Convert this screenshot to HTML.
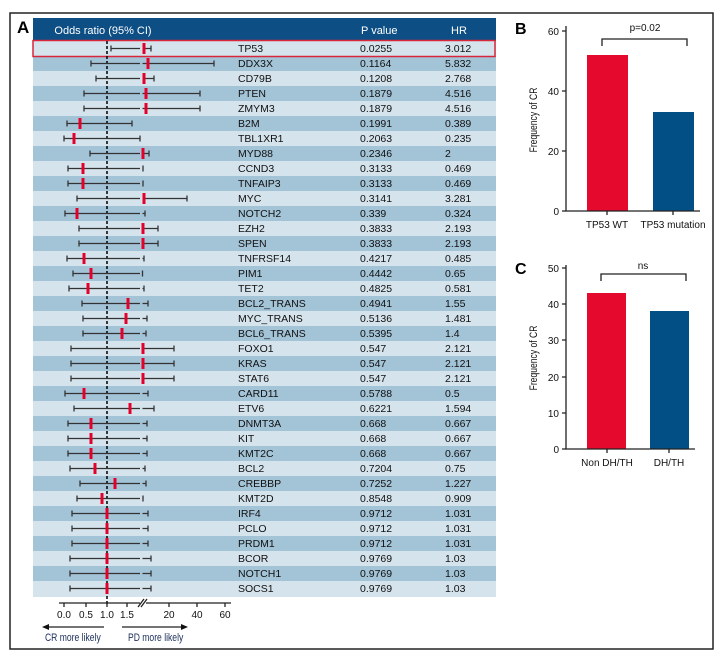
<!DOCTYPE html>
<html><head><meta charset="utf-8"><style>
body{margin:0;background:#fff}
svg{display:block}
text{font-family:"Liberation Sans",sans-serif}
</style></head><body>
<svg width="726" height="659" viewBox="0 0 726 659" xmlns="http://www.w3.org/2000/svg">
<rect x="10" y="13" width="703" height="636" fill="#fff" stroke="#222" stroke-width="1.5"/>
<text x="17" y="33" font-size="17" font-weight="bold">A</text>
<rect x="33" y="18" width="463" height="23" fill="#0d4f85"/>
<text x="103" y="34" font-size="11" fill="#fff" text-anchor="middle">Odds ratio (95% CI)</text>
<text x="361" y="34" font-size="11" fill="#fff">P value</text>
<text x="451" y="34" font-size="11" fill="#fff">HR</text>
<g id="bg">
<rect x="33" y="41" width="463" height="15" fill="#d5e3ec"/><rect x="33" y="56" width="463" height="15" fill="#a3c3d7"/>
<rect x="33" y="71" width="463" height="15" fill="#d5e3ec"/><rect x="33" y="86" width="463" height="15" fill="#a3c3d7"/>
<rect x="33" y="101" width="463" height="15" fill="#d5e3ec"/><rect x="33" y="116" width="463" height="15" fill="#a3c3d7"/>
<rect x="33" y="131" width="463" height="15" fill="#d5e3ec"/><rect x="33" y="146" width="463" height="15" fill="#a3c3d7"/>
<rect x="33" y="161" width="463" height="15" fill="#d5e3ec"/><rect x="33" y="176" width="463" height="15" fill="#a3c3d7"/>
<rect x="33" y="191" width="463" height="15" fill="#d5e3ec"/><rect x="33" y="206" width="463" height="15" fill="#a3c3d7"/>
<rect x="33" y="221" width="463" height="15" fill="#d5e3ec"/><rect x="33" y="236" width="463" height="15" fill="#a3c3d7"/>
<rect x="33" y="251" width="463" height="15" fill="#d5e3ec"/><rect x="33" y="266" width="463" height="15" fill="#a3c3d7"/>
<rect x="33" y="281" width="463" height="15" fill="#d5e3ec"/><rect x="33" y="296" width="463" height="15" fill="#a3c3d7"/>
<rect x="33" y="311" width="463" height="15" fill="#d5e3ec"/><rect x="33" y="326" width="463" height="15" fill="#a3c3d7"/>
<rect x="33" y="341" width="463" height="15" fill="#d5e3ec"/><rect x="33" y="356" width="463" height="15" fill="#a3c3d7"/>
<rect x="33" y="371" width="463" height="15" fill="#d5e3ec"/><rect x="33" y="386" width="463" height="15" fill="#a3c3d7"/>
<rect x="33" y="401" width="463" height="15" fill="#d5e3ec"/><rect x="33" y="416" width="463" height="15" fill="#a3c3d7"/>
<rect x="33" y="431" width="463" height="15" fill="#d5e3ec"/><rect x="33" y="446" width="463" height="15" fill="#a3c3d7"/>
<rect x="33" y="461" width="463" height="15" fill="#d5e3ec"/><rect x="33" y="476" width="463" height="15" fill="#a3c3d7"/>
<rect x="33" y="491" width="463" height="15" fill="#d5e3ec"/><rect x="33" y="506" width="463" height="15" fill="#a3c3d7"/>
<rect x="33" y="521" width="463" height="15" fill="#d5e3ec"/><rect x="33" y="536" width="463" height="15" fill="#a3c3d7"/>
<rect x="33" y="551" width="463" height="15" fill="#d5e3ec"/><rect x="33" y="566" width="463" height="15" fill="#a3c3d7"/>
<rect x="33" y="581" width="463" height="16" fill="#d5e3ec"/>
</g>
<rect x="33" y="40.5" width="462" height="16" fill="none" stroke="#d8263a" stroke-width="1.5"/>
<line x1="107" y1="41" x2="107" y2="605" stroke="#000" stroke-width="1.5" stroke-dasharray="3,2"/>
<g stroke="#333" stroke-width="1.3" fill="none">
<path d="M111 48.5H140M142.5 48.5H151M111 45.5v6M151 45.5v6"/>
<path d="M91 63.5H140M142.5 63.5H214M91 60.5v6M214 60.5v6"/>
<path d="M96 78.5H140M142.5 78.5H154M96 75.5v6M154 75.5v6"/>
<path d="M84 93.5H140M142.5 93.5H200M84 90.5v6M200 90.5v6"/>
<path d="M84 108.5H140M142.5 108.5H200M84 105.5v6M200 105.5v6"/>
<path d="M67 123.5H132M67 120.5v6M132 120.5v6"/>
<path d="M64 138.5H140M64 135.5v6M140 135.5v6"/>
<path d="M90 153.5H140M142.5 153.5H149M90 150.5v6M149 150.5v6"/>
<path d="M68 168.5H140M68 165.5v6M143 165.5v6"/>
<path d="M68 183.5H140M68 180.5v6M143 180.5v6"/>
<path d="M77 198.5H140M142.5 198.5H187M77 195.5v6M187 195.5v6"/>
<path d="M65 213.5H140M142.5 213.5H145M65 210.5v6M145 210.5v6"/>
<path d="M79 228.5H140M142.5 228.5H158M79 225.5v6M158 225.5v6"/>
<path d="M79 243.5H140M142.5 243.5H158M79 240.5v6M158 240.5v6"/>
<path d="M67 258.5H140M142.5 258.5H144M67 255.5v6M144 255.5v6"/>
<path d="M73 273.5H140M73 270.5v6M142.5 270.5v6"/>
<path d="M69 288.5H140M142.5 288.5H144M69 285.5v6M144 285.5v6"/>
<path d="M82 303.5H140M142.5 303.5H148M82 300.5v6M148 300.5v6"/>
<path d="M83 318.5H140M142.5 318.5H147M83 315.5v6M147 315.5v6"/>
<path d="M83 333.5H140M142.5 333.5H146M83 330.5v6M146 330.5v6"/>
<path d="M71 348.5H140M142.5 348.5H174M71 345.5v6M174 345.5v6"/>
<path d="M71 363.5H140M142.5 363.5H174M71 360.5v6M174 360.5v6"/>
<path d="M71 378.5H140M142.5 378.5H174M71 375.5v6M174 375.5v6"/>
<path d="M65 393.5H140M142.5 393.5H148M65 390.5v6M148 390.5v6"/>
<path d="M74 408.5H140M142.5 408.5H154M74 405.5v6M154 405.5v6"/>
<path d="M68 423.5H140M142.5 423.5H147M68 420.5v6M147 420.5v6"/>
<path d="M68 438.5H140M142.5 438.5H147M68 435.5v6M147 435.5v6"/>
<path d="M68 453.5H140M142.5 453.5H147M68 450.5v6M147 450.5v6"/>
<path d="M70 468.5H140M142.5 468.5H145M70 465.5v6M145 465.5v6"/>
<path d="M80 483.5H140M142.5 483.5H146M80 480.5v6M146 480.5v6"/>
<path d="M77 498.5H140M77 495.5v6M143 495.5v6"/>
<path d="M72 513.5H140M142.5 513.5H148M72 510.5v6M148 510.5v6"/>
<path d="M72 528.5H140M142.5 528.5H148M72 525.5v6M148 525.5v6"/>
<path d="M72 543.5H140M142.5 543.5H148M72 540.5v6M148 540.5v6"/>
<path d="M70 558.5H140M142.5 558.5H151M70 555.5v6M151 555.5v6"/>
<path d="M70 573.5H140M142.5 573.5H151M70 570.5v6M151 570.5v6"/>
<path d="M70 588.5H140M142.5 588.5H151M70 585.5v6M151 585.5v6"/>
</g>
<g fill="#e4002b">
<rect x="142.5" y="43" width="3" height="11"/><rect x="146.5" y="58" width="3" height="11"/>
<rect x="142.5" y="73" width="3" height="11"/><rect x="144.5" y="88" width="3" height="11"/>
<rect x="144.5" y="103" width="3" height="11"/><rect x="78.5" y="118" width="3" height="11"/>
<rect x="72.5" y="133" width="3" height="11"/><rect x="141.5" y="148" width="3" height="11"/>
<rect x="81.5" y="163" width="3" height="11"/><rect x="81.5" y="178" width="3" height="11"/>
<rect x="142.5" y="193" width="3" height="11"/><rect x="75.5" y="208" width="3" height="11"/>
<rect x="141.5" y="223" width="3" height="11"/><rect x="141.5" y="238" width="3" height="11"/>
<rect x="82.5" y="253" width="3" height="11"/><rect x="89.5" y="268" width="3" height="11"/>
<rect x="86.5" y="283" width="3" height="11"/><rect x="126.5" y="298" width="3" height="11"/>
<rect x="124.5" y="313" width="3" height="11"/><rect x="120.5" y="328" width="3" height="11"/>
<rect x="141.5" y="343" width="3" height="11"/><rect x="141.5" y="358" width="3" height="11"/>
<rect x="141.5" y="373" width="3" height="11"/><rect x="82.5" y="388" width="3" height="11"/>
<rect x="128.5" y="403" width="3" height="11"/><rect x="89.5" y="418" width="3" height="11"/>
<rect x="89.5" y="433" width="3" height="11"/><rect x="89.5" y="448" width="3" height="11"/>
<rect x="93.5" y="463" width="3" height="11"/><rect x="113.5" y="478" width="3" height="11"/>
<rect x="100.5" y="493" width="3" height="11"/><rect x="105.5" y="508" width="3" height="11"/>
<rect x="105.5" y="523" width="3" height="11"/><rect x="105.5" y="538" width="3" height="11"/>
<rect x="105.5" y="553" width="3" height="11"/><rect x="105.5" y="568" width="3" height="11"/>
<rect x="105.5" y="583" width="3" height="11"/>
</g>
<g font-size="10.5" fill="#111">
<text x="238" y="52">TP53</text><text x="360" y="52">0.0255</text><text x="445" y="52">3.012</text>
<text x="238" y="67">DDX3X</text><text x="360" y="67">0.1164</text><text x="445" y="67">5.832</text>
<text x="238" y="82">CD79B</text><text x="360" y="82">0.1208</text><text x="445" y="82">2.768</text>
<text x="238" y="97">PTEN</text><text x="360" y="97">0.1879</text><text x="445" y="97">4.516</text>
<text x="238" y="112">ZMYM3</text><text x="360" y="112">0.1879</text><text x="445" y="112">4.516</text>
<text x="238" y="127">B2M</text><text x="360" y="127">0.1991</text><text x="445" y="127">0.389</text>
<text x="238" y="142">TBL1XR1</text><text x="360" y="142">0.2063</text><text x="445" y="142">0.235</text>
<text x="238" y="157">MYD88</text><text x="360" y="157">0.2346</text><text x="445" y="157">2</text>
<text x="238" y="172">CCND3</text><text x="360" y="172">0.3133</text><text x="445" y="172">0.469</text>
<text x="238" y="187">TNFAIP3</text><text x="360" y="187">0.3133</text><text x="445" y="187">0.469</text>
<text x="238" y="202">MYC</text><text x="360" y="202">0.3141</text><text x="445" y="202">3.281</text>
<text x="238" y="217">NOTCH2</text><text x="360" y="217">0.339</text><text x="445" y="217">0.324</text>
<text x="238" y="232">EZH2</text><text x="360" y="232">0.3833</text><text x="445" y="232">2.193</text>
<text x="238" y="247">SPEN</text><text x="360" y="247">0.3833</text><text x="445" y="247">2.193</text>
<text x="238" y="262">TNFRSF14</text><text x="360" y="262">0.4217</text><text x="445" y="262">0.485</text>
<text x="238" y="277">PIM1</text><text x="360" y="277">0.4442</text><text x="445" y="277">0.65</text>
<text x="238" y="292">TET2</text><text x="360" y="292">0.4825</text><text x="445" y="292">0.581</text>
<text x="238" y="307">BCL2_TRANS</text><text x="360" y="307">0.4941</text><text x="445" y="307">1.55</text>
<text x="238" y="322">MYC_TRANS</text><text x="360" y="322">0.5136</text><text x="445" y="322">1.481</text>
<text x="238" y="337">BCL6_TRANS</text><text x="360" y="337">0.5395</text><text x="445" y="337">1.4</text>
<text x="238" y="352">FOXO1</text><text x="360" y="352">0.547</text><text x="445" y="352">2.121</text>
<text x="238" y="367">KRAS</text><text x="360" y="367">0.547</text><text x="445" y="367">2.121</text>
<text x="238" y="382">STAT6</text><text x="360" y="382">0.547</text><text x="445" y="382">2.121</text>
<text x="238" y="397">CARD11</text><text x="360" y="397">0.5788</text><text x="445" y="397">0.5</text>
<text x="238" y="412">ETV6</text><text x="360" y="412">0.6221</text><text x="445" y="412">1.594</text>
<text x="238" y="427">DNMT3A</text><text x="360" y="427">0.668</text><text x="445" y="427">0.667</text>
<text x="238" y="442">KIT</text><text x="360" y="442">0.668</text><text x="445" y="442">0.667</text>
<text x="238" y="457">KMT2C</text><text x="360" y="457">0.668</text><text x="445" y="457">0.667</text>
<text x="238" y="472">BCL2</text><text x="360" y="472">0.7204</text><text x="445" y="472">0.75</text>
<text x="238" y="487">CREBBP</text><text x="360" y="487">0.7252</text><text x="445" y="487">1.227</text>
<text x="238" y="502">KMT2D</text><text x="360" y="502">0.8548</text><text x="445" y="502">0.909</text>
<text x="238" y="517">IRF4</text><text x="360" y="517">0.9712</text><text x="445" y="517">1.031</text>
<text x="238" y="532">PCLO</text><text x="360" y="532">0.9712</text><text x="445" y="532">1.031</text>
<text x="238" y="547">PRDM1</text><text x="360" y="547">0.9712</text><text x="445" y="547">1.031</text>
<text x="238" y="562">BCOR</text><text x="360" y="562">0.9769</text><text x="445" y="562">1.03</text>
<text x="238" y="577">NOTCH1</text><text x="360" y="577">0.9769</text><text x="445" y="577">1.03</text>
<text x="238" y="592">SOCS1</text><text x="360" y="592">0.9769</text><text x="445" y="592">1.03</text>
</g>
<g stroke="#222" stroke-width="1.3" fill="none">
<path d="M59 603H140M146 603H231"/>
<path d="M64 603v4M86 603v4M107 603v4M127 603v4M169 603v4M197 603v4M225 603v4"/>
<path d="M138 607L144 599M141 607L147 599"/>
<path d="M104 627H46M122 627H183"/>
</g>
<path d="M42 627l7 -3v6z M188 627l-7 -3v6z" fill="#111"/>
<g font-size="10" fill="#111" text-anchor="middle">
<text x="64" y="618">0.0</text><text x="86" y="618">0.5</text><text x="107" y="618">1.0</text><text x="127" y="618">1.5</text>
<text x="169" y="618">20</text><text x="197" y="618">40</text><text x="225" y="618">60</text>
</g>
<g font-size="11" fill="#1c2f5a">
<text x="45" y="641" transform="translate(45,0) scale(0.78,1) translate(-45,0)">CR more likely</text>
<text x="128" y="641" transform="translate(128,0) scale(0.78,1) translate(-128,0)">PD more likely</text>
</g>
<text x="515" y="34" font-size="16" font-weight="bold">B</text>
<rect x="587" y="55" width="41" height="156" fill="#e4092d"/>
<rect x="653" y="112" width="41" height="99" fill="#024f86"/>
<g stroke="#222" stroke-width="1.3" fill="none">
<path d="M566 26V211H700"/>
<path d="M562 31H566M562 91H566M562 151H566M562 211H566"/>
<path d="M607 211v4M673 211v4"/>
<path d="M602 46V39H687V46"/>
</g>
<g font-size="10" fill="#111" text-anchor="end">
<text x="559" y="35">60</text><text x="559" y="95">40</text><text x="559" y="155">20</text><text x="559" y="215">0</text>
</g>
<g font-size="10" fill="#111" text-anchor="middle">
<text x="607" y="228">TP53 WT</text><text x="673" y="228">TP53 mutation</text>
<text x="645" y="31">p=0.02</text>
</g>
<text transform="translate(537,120) rotate(-90) scale(0.78,1)" font-size="11" text-anchor="middle" fill="#111">Frequency of CR</text>
<text x="515" y="274" font-size="16" font-weight="bold">C</text>
<rect x="587" y="293" width="39" height="156" fill="#e4092d"/>
<rect x="650" y="311" width="39" height="138" fill="#024f86"/>
<g stroke="#222" stroke-width="1.3" fill="none">
<path d="M566 265V449H695"/>
<path d="M562 268H566M562 304H566M562 340H566M562 377H566M562 413H566M562 449H566"/>
<path d="M607 449v4M669 449v4"/>
<path d="M601 281V274H686V281"/>
</g>
<g font-size="10" fill="#111" text-anchor="end">
<text x="559" y="272">50</text><text x="559" y="308">40</text><text x="559" y="344">30</text><text x="559" y="381">20</text><text x="559" y="417">10</text><text x="559" y="453">0</text>
</g>
<g font-size="10" fill="#111" text-anchor="middle">
<text x="607" y="466">Non DH/TH</text><text x="669" y="466">DH/TH</text>
<text x="643" y="269">ns</text>
</g>
<text transform="translate(537,358) rotate(-90) scale(0.78,1)" font-size="11" text-anchor="middle" fill="#111">Frequency of CR</text>
</svg>
</body></html>
